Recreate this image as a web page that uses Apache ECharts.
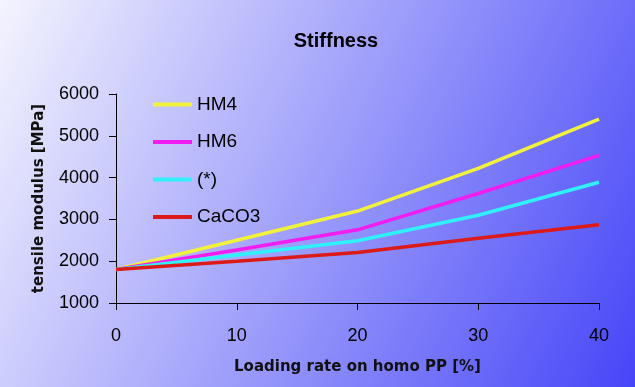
<!DOCTYPE html>
<html>
<head>
<meta charset="utf-8">
<script src="https://cdn.jsdelivr.net/npm/echarts@6/dist/echarts.min.js"></script>
<style>html,body{margin:0;padding:0;}#c{width:635px;height:387px;}</style>
</head>
<body>
<div id="c"></div>
<script>
const loadingRates = [0, 10, 20, 30, 40];
const hm4 = [1800, 2500, 3200, 4220, 5400];
const hm6 = [1800, 2270, 2750, 3620, 4530];
const star = [1800, 2150, 2490, 3100, 3890];
const caco3 = [1800, 2000, 2210, 2550, 2870];
const seriesNames = ['HM4', 'HM6', '(*)', 'CaCO3'];
const seriesColors = ['#f2f23c', '#f01cf0', '#30f0f8', '#dc1a1a'];
const seriesData = [hm4, hm6, star, caco3];

const chart = echarts.init(document.getElementById('c'), null, {renderer: 'canvas'});
const font = 'Liberation Sans, Arial, sans-serif';
const boldFont = 'DejaVu Sans, Verdana, sans-serif';
chart.setOption({
  animation: false,
  backgroundColor: new echarts.graphic.LinearGradient(0, 0, 1.112, 0.856, [
    {offset: 0, color: '#f4f4fe'},
    {offset: 1, color: '#3c3cf8'}
  ]),
  title: {
    text: 'Stiffness', left: 331, top: 26, textAlign: 'center',
    textStyle: {fontFamily: font, fontSize: 20, fontWeight: 'bold', color: '#000'}
  },
  legend: {
    orient: 'vertical', left: 148, top: 90, itemGap: 18.5,
    icon: 'rect', itemWidth: 39, itemHeight: 4,
    textStyle: {fontFamily: font, fontSize: 19, color: '#000'},
    data: seriesNames
  },
  grid: {left: 116, right: 36, top: 94, bottom: 84},
  xAxis: {
    type: 'value', min: 0, max: 40, interval: 10,
    name: 'Loading rate on homo PP [%]', nameLocation: 'middle', nameGap: 57,
    nameTextStyle: {fontFamily: boldFont, fontSize: 15, fontWeight: 'bold', color: '#111'},
    axisLine: {lineStyle: {color: '#000', width: 1}},
    axisTick: {show: true, length: 7, lineStyle: {color: '#000'}},
    axisLabel: {fontFamily: font, fontSize: 18, color: '#000', margin: 24},
    splitLine: {show: false}
  },
  yAxis: {
    type: 'value', min: 1000, max: 6000, interval: 1000,
    name: 'tensile modulus [MPa]', nameLocation: 'middle', nameGap: 69,
    nameTextStyle: {fontFamily: boldFont, fontSize: 15, fontWeight: 'bold', color: '#111'},
    axisLine: {show: true, lineStyle: {color: '#000', width: 1}},
    axisTick: {show: true, length: 7, lineStyle: {color: '#000'}},
    axisLabel: {fontFamily: font, fontSize: 18, color: '#000', margin: 17,
      formatter: v => String(v)},
    splitLine: {show: false}
  },
  series: seriesNames.map((n, i) => ({
    name: n, type: 'line', symbol: 'none',
    data: loadingRates.map((x, j) => [x, seriesData[i][j]]),
    itemStyle: {color: seriesColors[i]},
    lineStyle: {color: seriesColors[i], width: 3.5}
  }))
});
</script>
</body>
</html>
